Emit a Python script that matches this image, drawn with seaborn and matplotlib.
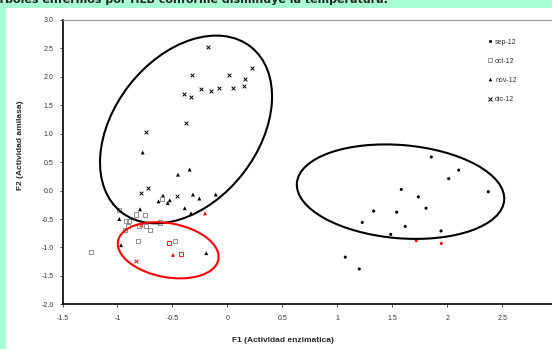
import pandas as pd
import seaborn as sns
import matplotlib.pyplot as plt
from matplotlib.lines import Line2D
from matplotlib.patches import Ellipse, Rectangle
from matplotlib.transforms import IdentityTransform, ScaledTranslation

# --- datos (F1, F2) ---
sep12_x = [1.853, 2.102, 2.011, 1.580, 1.735, 2.371, 1.805, 1.329, 1.538,
           1.225, 1.616, 1.941, 1.484, 1.071, 1.198]
sep12_y = [0.59, 0.36, 0.21, 0.02, -0.11, -0.02, -0.31, -0.36, -0.38,
           -0.56, -0.63, -0.71, -0.77, -1.17, -1.38]
sep12_rojo_x = [1.716, 1.944]
sep12_rojo_y = [-0.88, -0.93]

oct12_x = [-0.593, -0.832, -0.750, -0.925, -0.895, -0.902, -0.929, -0.805,
           -0.738, -0.702, -0.614, -0.814, -1.241, -0.475, -0.984]
oct12_y = [-0.15, -0.42, -0.43, -0.53, -0.53, -0.62, -0.69, -0.63,
           -0.62, -0.70, -0.56, -0.89, -1.08, -0.88, -0.34]
oct12_rojo_x = [-0.529, -0.423]
oct12_rojo_y = [-0.92, -1.12]

nov12_x = [-0.771, -0.450, -0.344, -0.586, -0.627, -0.525, -0.544, -0.314,
           -0.256, -0.107, -0.389, -0.795, -0.332, -0.984, -0.968, -0.193]
nov12_y = [0.67, 0.28, 0.37, -0.09, -0.19, -0.17, -0.22, -0.07,
           -0.14, -0.07, -0.31, -0.33, -0.40, -0.50, -0.96, -1.10]
nov12_rojo_x = [-0.205, -0.495]
nov12_rojo_y = [-0.40, -1.13]

dic12_x = [-0.180, -0.320, 0.016, 0.225, 0.159, -0.393, -0.332, -0.238,
           -0.153, -0.075, 0.053, 0.147, -0.375, -0.738, -0.786, -0.720, -0.459]
dic12_y = [2.53, 2.04, 2.04, 2.16, 1.97, 1.70, 1.64, 1.78,
           1.76, 1.80, 1.80, 1.84, 1.19, 1.03, -0.05, 0.04, -0.10]
dic12_rojo_x = [-0.784, -0.829]
dic12_rojo_y = [-0.61, -1.23]

meses = ['sep-12', 'oct-12', 'nov-12', 'dic-12']

x_ticks = [-1.5, -1, -0.5, 0, 0.5, 1, 1.5, 2, 2.5]
y_ticks = [-2.0, -1.5, -1.0, -0.5, 0.0, 0.5, 1.0, 1.5, 2.0, 2.5, 3.0]

titulo = 'Árboles enfermos por HLB conforme disminuye la temperatura.'


def build_frame():
    partes = []
    grupos = [
        ('sep-12', sep12_x, sep12_y, sep12_rojo_x, sep12_rojo_y),
        ('oct-12', oct12_x, oct12_y, oct12_rojo_x, oct12_rojo_y),
        ('nov-12', nov12_x, nov12_y, nov12_rojo_x, nov12_rojo_y),
        ('dic-12', dic12_x, dic12_y, dic12_rojo_x, dic12_rojo_y),
    ]
    for mes, x, y, rx, ry in grupos:
        partes.append(pd.DataFrame({'F1': x, 'F2': y, 'mes': mes, 'rojo': False}))
        partes.append(pd.DataFrame({'F1': rx, 'F2': ry, 'mes': mes, 'rojo': True}))
    return pd.concat(partes, ignore_index=True)


# estilo de cada serie
estilos = {
    'sep-12': dict(marker='o', s=5, color='black', hueco=False),
    'oct-12': dict(marker='s', s=9, color='#808080', hueco=True),
    'nov-12': dict(marker='^', s=8, color='black', hueco=False),
    'dic-12': dict(marker='x', s=7, color='black', hueco=False),
}

# elipses: centro en datos, semiejes en pixeles, angulo
elipses = [
    (-0.377, 1.075, 105, 72, 52, 'black'),
    (1.573, -0.019, 104, 46.6, -4.8, 'black'),
    (-0.539, -1.05, 51, 27, -10.4, 'red'),
]


def px(x):
    return x / 552


def py(y):
    return 1 - y / 349


def main():
    sns.set_style('white')
    plt.rcParams['font.family'] = ['Liberation Sans', 'DejaVu Sans']
    plt.rcParams['axes.unicode_minus'] = False

    df = build_frame()

    fig = plt.figure(figsize=(5.52, 3.49), dpi=100)
    fig.patch.set_facecolor('#aaffd2')
    fig.add_artist(Rectangle((px(6), 0), 1, py(8), transform=fig.transFigure,
                             facecolor='white', edgecolor='none', zorder=0))

    ax = fig.add_axes([px(62.5), py(304.3), 495 / 552, 284.3 / 349])
    ax.set_facecolor('white')

    for (mes, rojo), sub in df.groupby(['mes', 'rojo']):
        st = estilos[mes]
        col = 'red' if rojo else st['color']
        if st['hueco']:
            sns.scatterplot(data=sub, x='F1', y='F2', ax=ax, marker=st['marker'],
                            s=st['s'], facecolor='none', edgecolor=col,
                            linewidth=0.6, legend=False, zorder=3)
        elif st['marker'] == 'x':
            sns.scatterplot(data=sub, x='F1', y='F2', ax=ax, marker='x',
                            s=st['s'], color=col, linewidth=0.7,
                            legend=False, zorder=3)
        else:
            sns.scatterplot(data=sub, x='F1', y='F2', ax=ax, marker=st['marker'],
                            s=st['s'], color=col, edgecolor='none',
                            legend=False, zorder=3)

    ax.set_xlim(-1.5, 3.0)
    ax.set_ylim(-2.0, 3.0)

    for cx, cy, a, b, ang, col in elipses:
        tr = IdentityTransform() + ScaledTranslation(cx, cy, ax.transData)
        ax.add_patch(Ellipse((0, 0), 2 * a, 2 * b, angle=ang, transform=tr,
                             fill=False, edgecolor=col, linewidth=1.5, zorder=4))

    ax.set_xticks(x_ticks)
    ax.set_xticklabels(['%g' % v for v in x_ticks])
    ax.set_yticks(y_ticks)
    ax.set_yticklabels(['%.1f' % v for v in y_ticks])
    ax.tick_params(axis='both', labelsize=5, labelcolor='#333333', colors='#333333',
                   length=2.5, width=0.6, direction='out', pad=4)
    ax.tick_params(axis='x', pad=5)
    ax.tick_params(axis='y', left=True)
    ax.tick_params(axis='x', bottom=True)
    ax.set_xlabel('')
    ax.set_ylabel('')

    for lado in ['left', 'bottom']:
        ax.spines[lado].set_color('black')
        ax.spines[lado].set_linewidth(1.2)
    ax.spines['top'].set_color('#999999')
    ax.spines['top'].set_linewidth(0.8)
    ax.spines['right'].set_visible(False)

    handles = []
    for mes in meses:
        st = estilos[mes]
        if st['hueco']:
            h = Line2D([], [], linestyle='none', marker='s', markersize=2.5,
                       markerfacecolor='none', markeredgecolor=st['color'],
                       markeredgewidth=0.6)
        elif st['marker'] == 'x':
            h = Line2D([], [], linestyle='none', marker='x', markersize=2.3,
                       color='black', markeredgewidth=0.7)
        else:
            h = Line2D([], [], linestyle='none', marker=st['marker'],
                       markersize=2.2 if st['marker'] == 'o' else 2.6,
                       color='black', markeredgewidth=0)
        handles.append(h)
    ax.legend(handles, meses, loc='upper left', frameon=False,
              bbox_to_anchor=(px(488.5), py(38.5)), bbox_transform=fig.transFigure,
              fontsize=5, handlelength=0.4, handletextpad=0.55,
              labelspacing=1.75, borderpad=0, borderaxespad=0, labelcolor='#333333')

    fig.text(px(283), py(341), 'F1 (Actividad enzimatica)', ha='center', va='center',
             fontsize=6, fontweight='bold')
    fig.text(px(21), py(145), 'F2 (Actividad amilasa)', ha='center', va='center',
             rotation=90, fontsize=6, fontweight='bold')
    fig.text(px(-8.6), py(3), titulo, ha='left', va='baseline', fontsize=8,
             fontweight='bold', family='DejaVu Sans')

    fig.savefig('out.png', dpi=100, facecolor=fig.get_facecolor())
    plt.close(fig)


if __name__ == '__main__':
    main()
